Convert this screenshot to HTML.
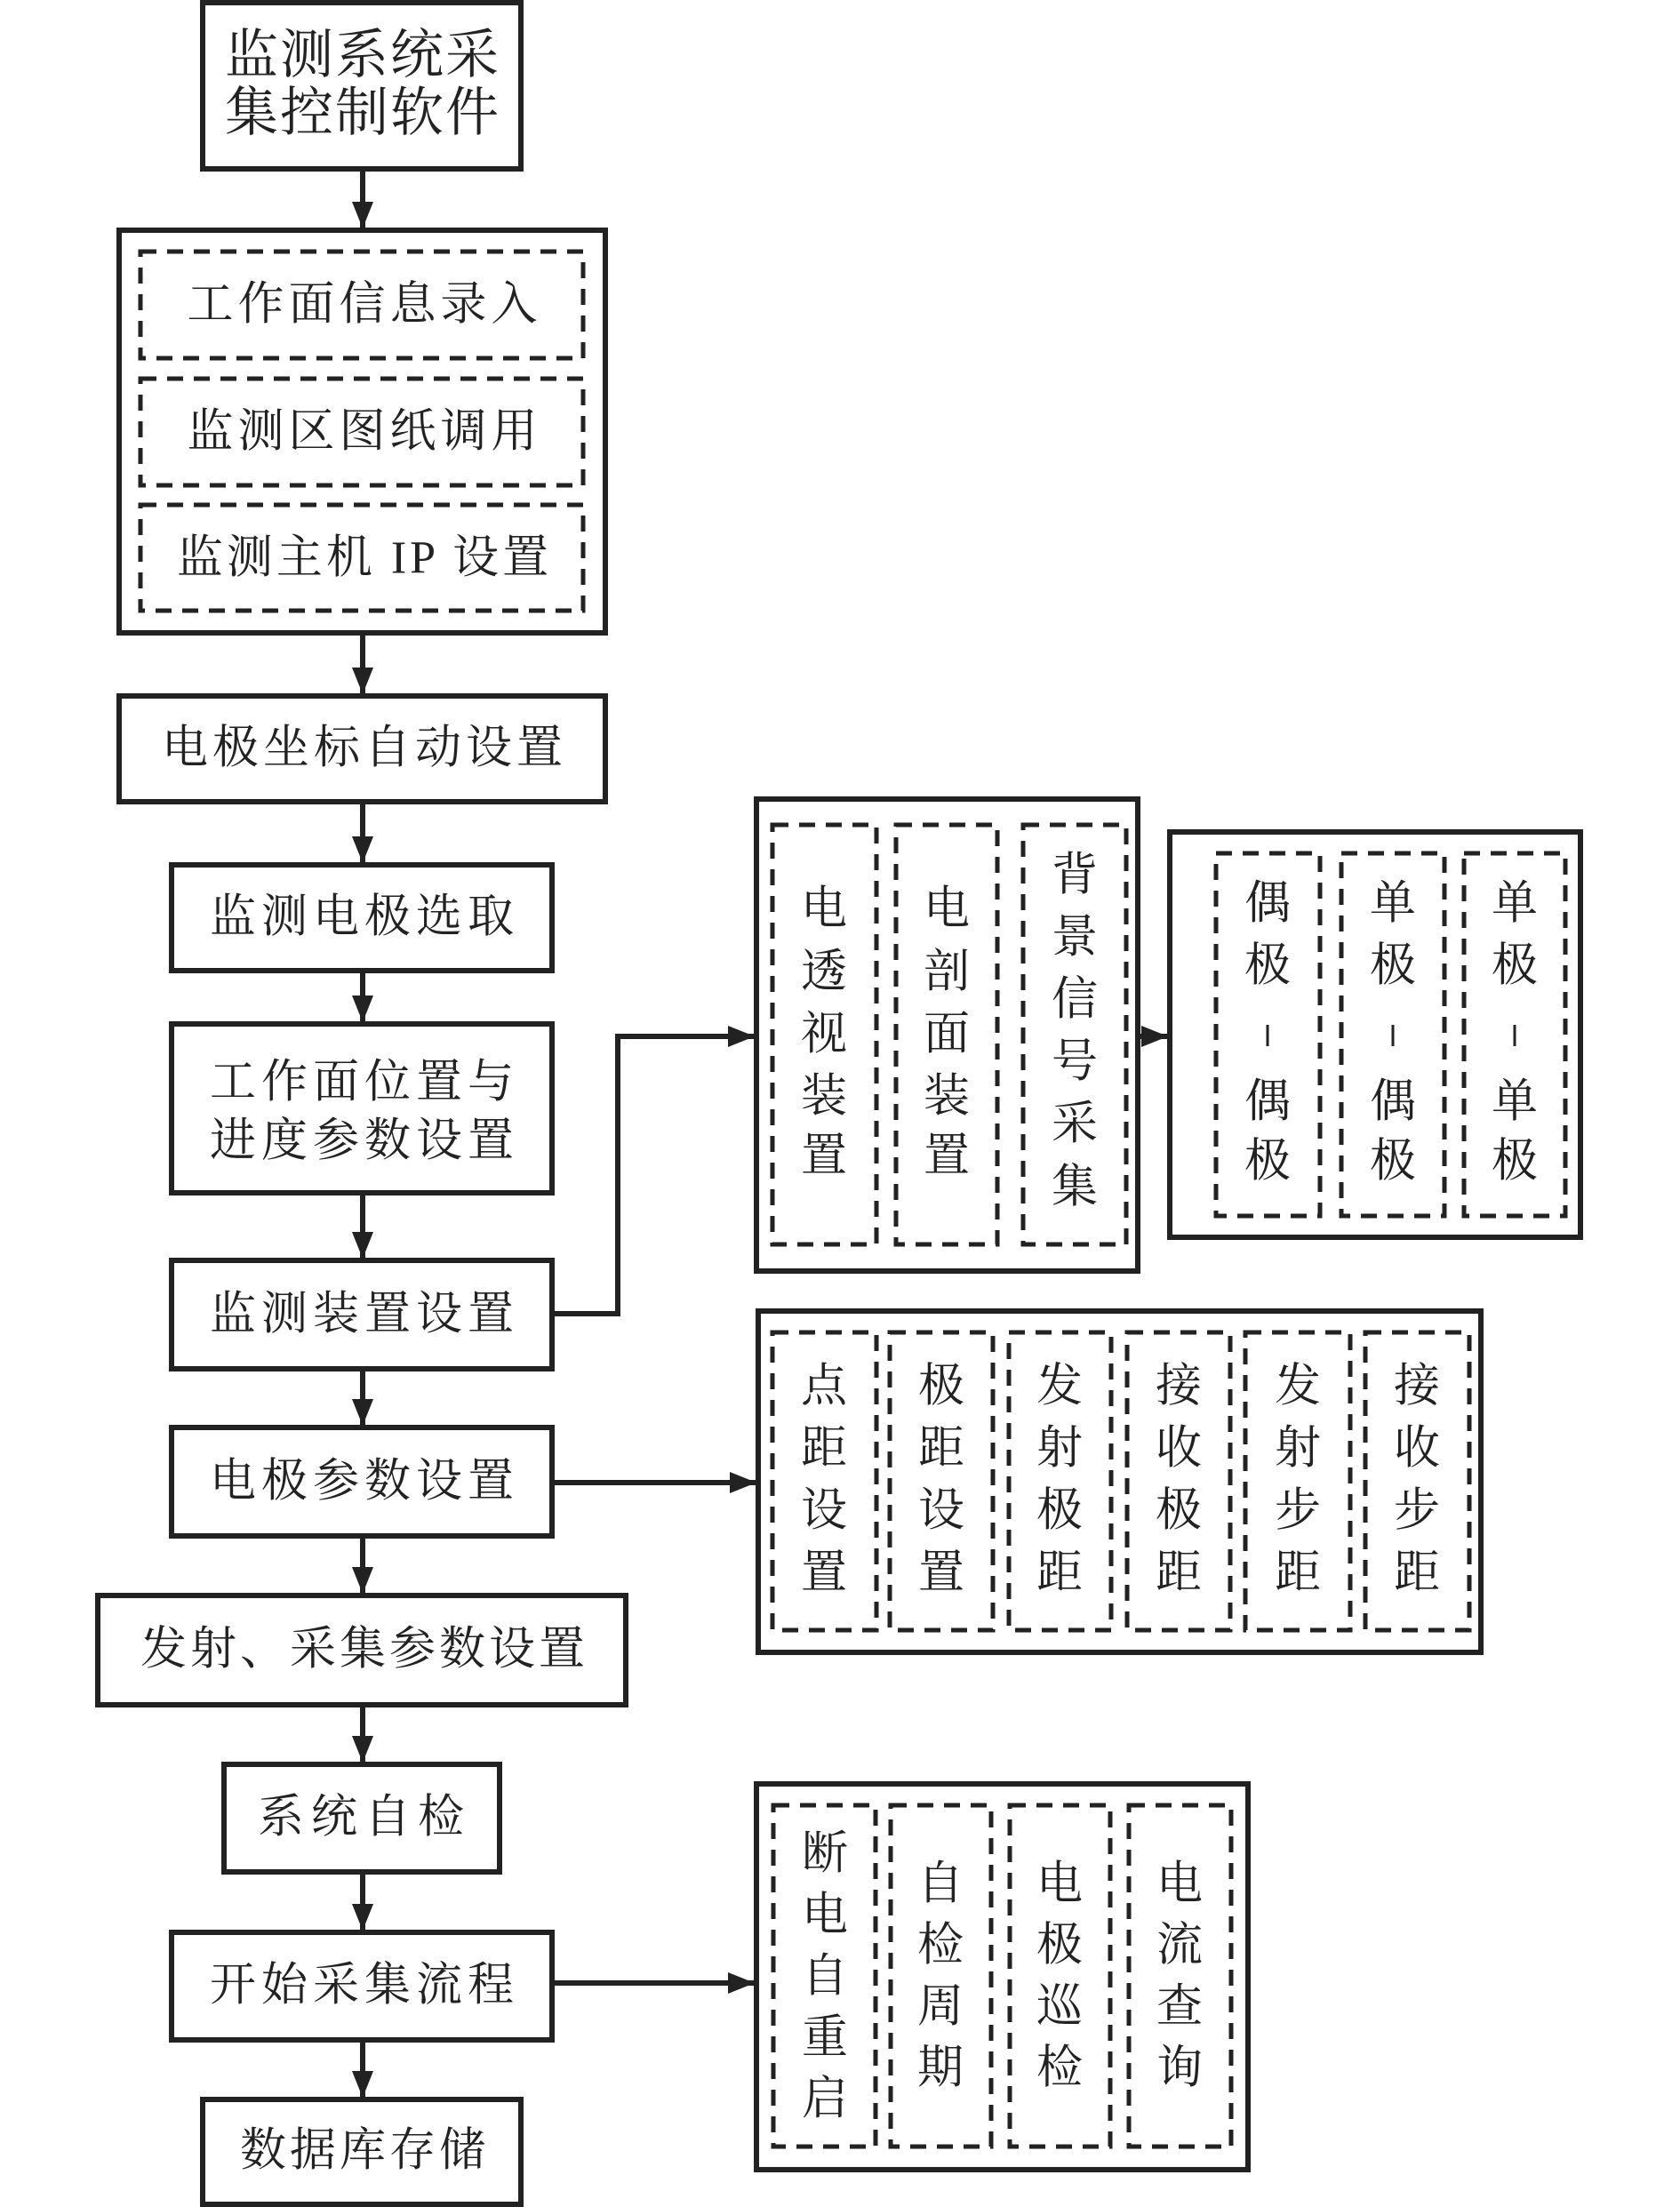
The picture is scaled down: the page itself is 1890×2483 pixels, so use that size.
<!DOCTYPE html>
<html><head><meta charset="utf-8"><style>
html,body{margin:0;padding:0;background:#fff}
svg{display:block}
text{font-family:"Liberation Serif","Noto Serif CJK SC",serif;font-size:52px;fill:#222}
.m{font-size:58px}
</style></head><body>
<svg width="1890" height="2483" viewBox="0 0 1890 2483" xmlns="http://www.w3.org/2000/svg">
<defs>
<marker id="ah" markerWidth="30" markerHeight="24" refX="30" refY="12" orient="auto" markerUnits="userSpaceOnUse">
<path d="M0,0 L30,12 L0,24 Z" fill="#222"/>
</marker>
</defs>
<g fill="none" stroke="#222" stroke-width="6">
<rect x="228" y="3" width="358" height="187"/>
<rect x="134" y="259" width="547" height="453"/>
<rect x="134" y="783" width="547" height="119"/>
<rect x="193" y="973" width="428" height="119"/>
<rect x="193" y="1152" width="428" height="190"/>
<rect x="193" y="1418" width="428" height="122"/>
<rect x="193" y="1606" width="428" height="122"/>
<rect x="110" y="1795" width="594" height="123"/>
<rect x="252" y="1985" width="310" height="121"/>
<rect x="193" y="2174" width="428" height="121"/>
<rect x="228" y="2362" width="358" height="118"/>
<rect x="851" y="899" width="429" height="531"/>
<rect x="1316" y="936" width="462" height="456"/>
<rect x="853" y="1475" width="813" height="384"/>
<rect x="851" y="2007" width="553" height="434"/>
</g>
<g fill="none" stroke="#222" stroke-width="5" stroke-dasharray="18 12">
<rect x="158" y="283" width="498" height="120"/>
<rect x="158" y="426" width="498" height="120"/>
<rect x="158" y="568" width="498" height="119"/>
<rect x="869" y="928" width="117" height="472"/>
<rect x="1008" y="928" width="114" height="472"/>
<rect x="1151" y="928" width="116" height="472"/>
<rect x="1368" y="960" width="117" height="408"/>
<rect x="1509" y="960" width="116" height="408"/>
<rect x="1647" y="960" width="114" height="408"/>
<rect x="869" y="1499" width="117" height="335"/>
<rect x="1001" y="1499" width="116" height="335"/>
<rect x="1135" y="1499" width="115" height="335"/>
<rect x="1268" y="1499" width="116" height="335"/>
<rect x="1401" y="1499" width="118" height="335"/>
<rect x="1536" y="1499" width="117" height="335"/>
<rect x="870" y="2031" width="115" height="384"/>
<rect x="1002" y="2031" width="113" height="384"/>
<rect x="1136" y="2031" width="113" height="384"/>
<rect x="1270" y="2031" width="115" height="384"/>
</g>
<g stroke="#222" stroke-width="6" fill="none" marker-end="url(#ah)">
<line x1="408" y1="190" x2="408" y2="257"/>
<line x1="408" y1="712" x2="408" y2="781"/>
<line x1="408" y1="902" x2="408" y2="971"/>
<line x1="408" y1="1092" x2="408" y2="1150"/>
<line x1="408" y1="1342" x2="408" y2="1416"/>
<line x1="408" y1="1540" x2="408" y2="1604"/>
<line x1="408" y1="1728" x2="408" y2="1793"/>
<line x1="408" y1="1918" x2="408" y2="1983"/>
<line x1="408" y1="2106" x2="408" y2="2172"/>
<line x1="408" y1="2295" x2="408" y2="2360"/>
<polyline points="621,1478 695,1478 695,1166 849,1166"/>
<line x1="1280" y1="1166" x2="1314" y2="1166"/>
<line x1="621" y1="1668" x2="851" y2="1668"/>
<line x1="621" y1="2231" x2="849" y2="2231"/>
</g>
<g text-anchor="middle" dominant-baseline="central" class="m">
<text x="408" y="62" style="font-size:60px" letter-spacing="2">监测系统采</text>
<text x="408" y="127" style="font-size:60px" letter-spacing="2">集控制软件</text>
<text x="410" y="343" letter-spacing="5">工作面信息录入</text>
<text x="410" y="486" letter-spacing="5">监测区图纸调用</text>
<text x="410" y="628" letter-spacing="4">监测主机 IP 设置</text>
<text x="410" y="842" letter-spacing="5">电极坐标自动设置</text>
<text x="410" y="1032" letter-spacing="6">监测电极选取</text>
<text x="410" y="1218" letter-spacing="6">工作面位置与</text>
<text x="410" y="1284" letter-spacing="6">进度参数设置</text>
<text x="410" y="1479" letter-spacing="6">监测装置设置</text>
<text x="410" y="1667" letter-spacing="6">电极参数设置</text>
<text x="410" y="1856" letter-spacing="4">发射、采集参数设置</text>
<text x="410" y="2045" letter-spacing="8">系统自检</text>
<text x="410" y="2234" letter-spacing="6">开始采集流程</text>
<text x="410" y="2420" letter-spacing="4">数据库存储</text>
</g>
<g text-anchor="middle" dominant-baseline="central">
<text x="927" y="1023">电</text><text x="927" y="1094">透</text><text x="927" y="1164">视</text><text x="927" y="1234">装</text><text x="927" y="1301">置</text>
<text x="1065" y="1023">电</text><text x="1065" y="1094">剖</text><text x="1065" y="1164">面</text><text x="1065" y="1234">装</text><text x="1065" y="1301">置</text>
<text x="1209" y="985">背</text><text x="1209" y="1055">景</text><text x="1209" y="1125">信</text><text x="1209" y="1195">号</text><text x="1209" y="1265">采</text><text x="1209" y="1336">集</text>
<text x="1426" y="1017">偶</text><text x="1426" y="1087">极</text><text x="1426" y="1240">偶</text><text x="1426" y="1307">极</text>
<text x="1567" y="1017">单</text><text x="1567" y="1087">极</text><text x="1567" y="1240">偶</text><text x="1567" y="1307">极</text>
<text x="1704" y="1017">单</text><text x="1704" y="1087">极</text><text x="1704" y="1240">单</text><text x="1704" y="1307">极</text>
<text x="927" y="1560">点</text><text x="927" y="1630">距</text><text x="927" y="1700">设</text><text x="927" y="1770">置</text>
<text x="1059" y="1560">极</text><text x="1059" y="1630">距</text><text x="1059" y="1700">设</text><text x="1059" y="1770">置</text>
<text x="1192" y="1560">发</text><text x="1192" y="1630">射</text><text x="1192" y="1700">极</text><text x="1192" y="1770">距</text>
<text x="1326" y="1560">接</text><text x="1326" y="1630">收</text><text x="1326" y="1700">极</text><text x="1326" y="1770">距</text>
<text x="1460" y="1560">发</text><text x="1460" y="1630">射</text><text x="1460" y="1700">步</text><text x="1460" y="1770">距</text>
<text x="1594" y="1560">接</text><text x="1594" y="1630">收</text><text x="1594" y="1700">步</text><text x="1594" y="1770">距</text>
<text x="928" y="2086">断</text><text x="928" y="2155">电</text><text x="928" y="2224">自</text><text x="928" y="2293">重</text><text x="928" y="2362">启</text>
<text x="1058" y="2120">自</text><text x="1058" y="2189">检</text><text x="1058" y="2258">周</text><text x="1058" y="2327">期</text>
<text x="1192" y="2120">电</text><text x="1192" y="2189">极</text><text x="1192" y="2258">巡</text><text x="1192" y="2327">检</text>
<text x="1327" y="2120">电</text><text x="1327" y="2189">流</text><text x="1327" y="2258">查</text><text x="1327" y="2327">询</text>
</g>
<g stroke="#222" stroke-width="3">
<line x1="1426" y1="1153" x2="1426" y2="1177"/>
<line x1="1567" y1="1153" x2="1567" y2="1177"/>
<line x1="1704" y1="1153" x2="1704" y2="1177"/>
</g>
</svg>
</body></html>
